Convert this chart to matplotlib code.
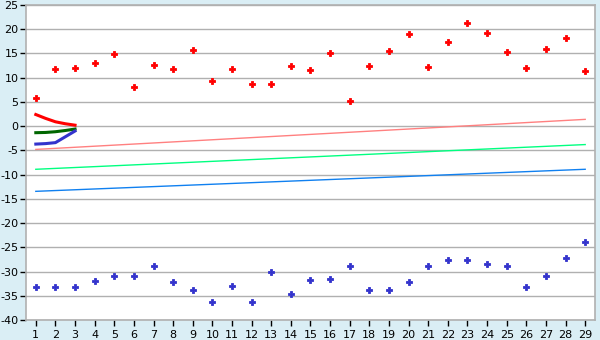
import matplotlib
matplotlib.use('Agg')
import matplotlib.pyplot as plt
import numpy as np

plt.rcParams['axes.unicode_minus'] = False

days = list(range(1, 30))
t_max = [5.9, 11.7, 12.1, 13.0, 14.8, 8.0, 12.7, 11.7, 15.8, 9.4,
         11.7, 8.8, 8.8, 12.5, 11.5, 15.0, 5.1, 12.5, 15.6, 19.1,
         12.3, 17.3, 21.2, 19.3, 15.2, 12.1, 16.0, 18.1, 11.3]
t_min = [-33.1, -33.1, -33.1, -32.0, -31.0, -31.0, -28.9, -32.2, -33.9, -36.2,
         -32.9, -36.2, -30.0, -34.7, -31.8, -31.6, -28.9, -33.9, -33.9, -32.2,
         -28.9, -27.7, -27.7, -28.5, -28.9, -33.1, -31.0, -27.3, -24.0]

# trend lines, values at first and last day
trend_days = [1, 29]
trend_max = [-4.8, 1.4]
trend_mean = [-8.9, -3.8]
trend_min = [-13.45, -8.9]

# short series for the first days
short_days = [1, 1.5, 2, 2.5, 3]
short_max = [2.4, 1.6, 0.9, 0.5, 0.2]
short_mean = [-1.35, -1.3, -1.15, -0.9, -0.6]
short_min = [-3.7, -3.6, -3.4, -2.2, -1.0]

bg = '#daeef5'
grid = '#b0b0b0'

fig = plt.figure(figsize=(6, 3.4), dpi=100, facecolor=bg)
ax = fig.add_axes([26/600, 1-320/340, 569/600, 315/340])
ax.set_facecolor('white')

ax.plot(trend_days, trend_max, color='#ff8080', lw=1.0)
ax.plot(trend_days, trend_mean, color='#00ff80', lw=1.0)
ax.plot(trend_days, trend_min, color='#1080f0', lw=1.0)

ax.plot(short_days, short_max, color='#ff0000', lw=2.2)
ax.plot(short_days, short_mean, color='#006600', lw=2.2)
ax.plot(short_days, short_min, color='#3333cc', lw=2.2)

ax.plot(days, t_max, ls='none', marker='P', ms=5, color='#ff0000', mew=0.6)
ax.plot(days, t_min, ls='none', marker='P', ms=5, color='#3333cc', mew=0.6)

ax.set_xlim(0.5, 29.5)
ax.set_ylim(-40, 25)
ax.set_xticks(days)
ax.set_yticks(np.arange(-40, 26, 5))
ax.yaxis.grid(True, color=grid, lw=1)
ax.set_axisbelow(True)
for s in ax.spines.values():
    s.set_color(grid)
    s.set_linewidth(1.2)
ax.tick_params(axis='both', colors='black', labelsize=8, length=4, width=1, pad=1.5)
ax.tick_params(axis='x', pad=3)

fig.savefig('out.png', dpi=100, facecolor=bg)
